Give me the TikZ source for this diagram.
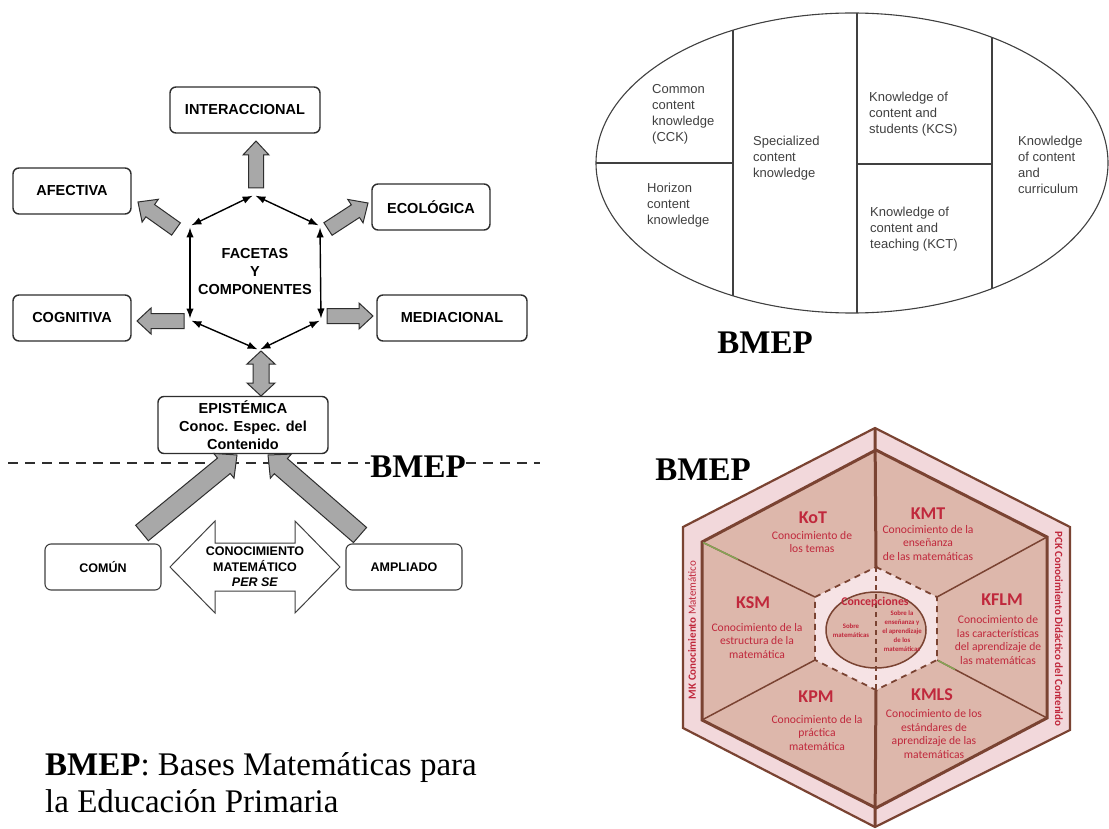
\documentclass[tikz,border=0pt]{standalone}
\usepackage{fontspec}
\setmainfont{Liberation Serif}
\setsansfont{Liberation Sans}
\newfontfamily\calibfont{Carlito}
\usetikzlibrary{arrows.meta,calc}

\definecolor{arrowgray}{HTML}{A8A8A8}
\definecolor{edgegray}{HTML}{2E2E2E}
\definecolor{inkgray}{HTML}{404040}
\definecolor{bandpink}{HTML}{F2D8DB}
\definecolor{facettan}{HTML}{DDB7AB}
\definecolor{corepink}{HTML}{F6E3E5}
\definecolor{hexbrown}{HTML}{7A4332}
\definecolor{kred}{HTML}{C0283C}
\definecolor{olivegreen}{HTML}{86A456}

% single block arrow: [style] tail, tip, shaft half width, head half width, head length
\newcommand{\blockarrow}[6][]{%
  \coordinate (ba-h) at ($(#3)!#6!(#2)$);
  \draw[blockarrow,#1] ($(#2)!#4!90:(#3)$) -- ($(ba-h)!#4!90:(#3)$) -- ($(ba-h)!#5!90:(#3)$)
    -- (#3) -- ($(ba-h)!#5!-90:(#3)$) -- ($(ba-h)!#4!-90:(#3)$) -- ($(#2)!#4!-90:(#3)$) -- cycle;}
% double block arrow: [style] end A, end B, shaft half width, head half width, head length
\newcommand{\dblockarrow}[6][]{%
  \coordinate (ba-a) at ($(#2)!#6!(#3)$);
  \coordinate (ba-b) at ($(#3)!#6!(#2)$);
  \draw[blockarrow,#1] (#2) -- ($(ba-a)!#5!90:(#3)$) -- ($(ba-a)!#4!90:(#3)$)
    -- ($(ba-b)!#4!90:(#3)$) -- ($(ba-b)!#5!90:(#3)$) -- (#3)
    -- ($(ba-b)!#5!-90:(#3)$) -- ($(ba-b)!#4!-90:(#3)$)
    -- ($(ba-a)!#4!-90:(#3)$) -- ($(ba-a)!#5!-90:(#3)$) -- cycle;}

\begin{document}
\begin{tikzpicture}[x=1pt,y=-1pt,
  facet/.style={draw=edgegray, line width=1.4pt, rounded corners=6pt, fill=white,
    align=center, inner sep=1pt, font=\sffamily\bfseries\fontsize{14.5}{18}\selectfont},
  facetsmall/.style={facet, draw=inkgray, line width=1.1pt,
    font=\sffamily\bfseries\fontsize{12.5}{15.5}\selectfont},
  blockarrow/.style={draw=edgegray, line width=1pt, fill=arrowgray, line join=miter},
  hexarrow/.style={{Latex[length=10pt,width=7.5pt]}-{Latex[length=10pt,width=7.5pt]},
    line width=1.4pt, shorten <=1.5pt, shorten >=1.5pt},
  bmep/.style={font=\fontsize{33}{38}\selectfont\bfseries, inner sep=0pt},
  caption/.style={font=\fontsize{33}{38}\selectfont, inner sep=0pt, anchor=base west},
  ckf/.style={font=\sffamily\fontsize{13}{16}\selectfont, text=inkgray, align=left,
    inner sep=0pt, anchor=west},
  ktitle/.style={font=\calibfont\bfseries\fontsize{18}{20}\selectfont, text=kred, inner sep=0pt},
  kbody/.style={font=\calibfont\fontsize{11.6}{13.8}\selectfont, text=kred, align=center, inner sep=0pt},
  ktiny/.style={font=\calibfont\bfseries\fontsize{6.8}{9}\selectfont, text=kred, align=center, inner sep=0pt},
  hexedge/.style={draw=hexbrown, line join=miter}
]
\useasboundingbox[fill=white] (0,0) rectangle (1109,829);

%% ---------------- Facets and components (left) ----------------
\node[facet, minimum width=150pt, minimum height=46pt] (interac) at (245,110) {INTERACCIONAL};
\node[facet, minimum width=118pt, minimum height=46pt] (afect) at (72,191) {AFECTIVA};
\node[facet, minimum width=118pt, minimum height=46pt] (ecol) at (431,207) {ECOLÓGICA};
\node[facet, minimum width=118pt, minimum height=46pt] (cogn) at (72,318) {COGNITIVA};
\node[facet, minimum width=150pt, minimum height=46pt] (medi) at (452,318) {MEDIACIONAL};
\node[facet, minimum width=170pt, minimum height=57pt] (epist) at (243,425)
  {EPISTÉMICA\\Conoc. Espec. del\\Contenido};

\node[font=\sffamily\bfseries\fontsize{14.5}{18}\selectfont, align=center, inner sep=0pt]
  (facetas) at (255,272) {FACETAS\\Y\\COMPONENTES};

% hexagon of double-headed arrows
\coordinate (vt) at (254,195);
\coordinate (vul) at (190,226);
\coordinate (vur) at (320,226);
\coordinate (vll) at (190,320);
\coordinate (vlr) at (321,320);
\coordinate (vb) at (259,350);
\draw[hexarrow] (vul) -- (vt);
\draw[hexarrow] (vt) -- (vur);
\draw[hexarrow] (vul) -- (vll);
\draw[hexarrow] (vur) -- (vlr);
\draw[hexarrow] (vll) -- (vb);
\draw[hexarrow] (vlr) -- (vb);

% block arrows towards the facets
\coordinate (a1t) at (256,188);  \coordinate (a1h) at (256,141);
\coordinate (a2t) at (176,229);  \coordinate (a2h) at (138,202);
\coordinate (a3t) at (328,229);  \coordinate (a3h) at (368,203);
\coordinate (a4t) at (184,321);  \coordinate (a4h) at (137,321);
\coordinate (a5t) at (327,316);  \coordinate (a5h) at (373,316);
\coordinate (a6t) at (261,351);  \coordinate (a6h) at (261,396);
\blockarrow{a1t}{a1h}{7.5pt}{13pt}{14pt}
\blockarrow{a2t}{a2h}{7.5pt}{14pt}{15pt}
\blockarrow{a3t}{a3h}{7.5pt}{14pt}{15pt}
\blockarrow{a4t}{a4h}{7.5pt}{13pt}{14pt}
\blockarrow{a5t}{a5h}{7.5pt}{13pt}{14pt}
\dblockarrow{a6t}{a6h}{8pt}{14pt}{13pt}

% dividing line
\node[bmep] (bm1) at (418,467) {BMEP};
\coordinate (dl) at (8,463);
\coordinate (dr) at (540,463);
\draw[line width=1.5pt, dash pattern=on 10pt off 7pt, edgegray] (dl) -- (dl -| bm1.west);
\draw[line width=1.5pt, dash pattern=on 10pt off 7pt, edgegray] (dr -| bm1.east) -- (dr);

% common / extended knowledge
\node[facetsmall, minimum width=116pt, minimum height=46pt] (comun) at (103,567) {COMÚN};
\node[facetsmall, minimum width=116pt, minimum height=46pt] (ampl) at (404,567) {AMPLIADO};
\coordinate (cml) at (170,567);
\coordinate (cmr) at (340,567);
\dblockarrow[fill=white, draw=inkgray]{cml}{cmr}{24pt}{46pt}{45pt}
\node[font=\sffamily\bfseries\fontsize{12.5}{15.5}\selectfont, align=center, inner sep=0pt]
  (conmat) at (255,567) {CONOCIMIENTO\\MATEMÁTICO\\\textit{PER SE}};
\coordinate (b1t) at (142,533);  \coordinate (b1h) at (237,455);
\coordinate (b2t) at (360,535);  \coordinate (b2h) at (268,455);
\blockarrow{b1t}{b1h}{10pt}{16pt}{17pt}
\blockarrow{b2t}{b2h}{10pt}{16pt}{17pt}

% caption
\node[caption] (cap1) at (45,775) {\textbf{BMEP}: Bases Matemáticas para};
\node[caption] (cap2) at (45,812) {la Educación Primaria};

%% ---------------- Domains of knowledge (ellipse) ----------------
\begin{scope}
  \clip (852,163) ellipse [x radius=256, y radius=150];
  \draw[inkgray, line width=1.1pt] (733,0) -- (733,330);
  \draw[inkgray, line width=1.1pt] (857,0) -- (857,330);
  \draw[inkgray, line width=1.1pt] (992,0) -- (992,330);
  \draw[inkgray, line width=1.1pt] (590,163) -- (733,163);
  \draw[inkgray, line width=1.1pt] (857,164) -- (992,164);
\end{scope}
\draw[inkgray, line width=1.1pt] (852,163) ellipse [x radius=256, y radius=150];
\node[ckf] (cck) at (652,114) {Common\\content\\knowledge\\(CCK)};
\node[ckf] (hck) at (647,205) {Horizon\\content\\knowledge};
\node[ckf] (sck) at (753,158) {Specialized\\content\\knowledge};
\node[ckf] (kcs) at (869,114) {Knowledge of\\content and\\students (KCS)};
\node[ckf] (kct) at (870,229) {Knowledge of\\content and\\teaching (KCT)};
\node[ckf] (kcc) at (1018,165) {Knowledge\\of content\\and\\curriculum};
\node[bmep] (bm2) at (765,343) {BMEP};

%% ---------------- MTSK hexagon ----------------
\node[bmep] (bm3) at (703,470) {BMEP};
% outer band
\path[hexedge, fill=bandpink, line width=2.2pt]
  (875,428) -- (1070,527) -- (1070,730) -- (875,827) -- (683,728) -- (683,527) -- cycle;
% inner hexagon
\path[hexedge, fill=facettan, line width=3pt]
  (876,450) -- (1047,537) -- (1047,718) -- (876,808) -- (702,720) -- (702,542) -- cycle;
% spokes
\draw[hexbrown, line width=3pt] (875,428) -- (876,567);
\draw[hexbrown, line width=3pt] (876,690) -- (875,827);
\draw[hexbrown, line width=1.5pt] (702,542) -- (815,597);
\draw[hexbrown, line width=1.5pt] (702,720) -- (815,660);
\draw[hexbrown, line width=1.5pt] (1047,537) -- (937,597);
\draw[hexbrown, line width=1.5pt] (1047,718) -- (937,660);
\draw[olivegreen, line width=1.5pt] (703,542.5) -- (738,559.5);
\draw[olivegreen, line width=1.5pt] (938,660.5) -- (955,669.5);
% core: conceptions
\path[hexedge, fill=corepink, line width=1.8pt, dash pattern=on 6pt off 5pt]
  (876,567) -- (937,597) -- (937,660) -- (876,690) -- (815,660) -- (815,597) -- cycle;
\draw[hexbrown, fill=facettan, line width=1.5pt] (876,630) ellipse [x radius=50, y radius=38];
\draw[hexbrown, line width=1.5pt, dash pattern=on 5pt off 4pt] (876,567) -- (876,690);
\node[font=\calibfont\bfseries\fontsize{11.8}{13}\selectfont, text=kred, inner sep=0pt]
  (concep) at (875,602) {Concepciones};
\node[ktiny] (sobmat) at (851,631) {Sobre\\matemáticas};
\node[ktiny] (sobens) at (902,631) {Sobre la\\enseñanza y\\el aprendizaje\\de los\\matemáticas};

% six subdomains
\node[ktitle] (kot) at (813,518) {KoT};
\node[kbody] (kotb) at (812,542) {Conocimiento de\\los temas};
\node[ktitle] (kmt) at (928,514) {KMT};
\node[kbody] (kmtb) at (928,543) {Conocimiento de la\\enseñanza\\de las matemáticas};
\node[ktitle] (ksm) at (753,603) {KSM};
\node[kbody] (ksmb) at (757,641) {Conocimiento de la\\estructura de la\\matemática};
\node[ktitle] (kflm) at (1002,600) {KFLM};
\node[kbody] (kflmb) at (998,640) {Conocimiento de\\las características\\del aprendizaje de\\las matemáticas};
\node[ktitle] (kpm) at (816,697) {KPM};
\node[kbody] (kpmb) at (817,733) {Conocimiento de la\\práctica\\matemática};
\node[ktitle] (kmls) at (932,695) {KMLS};
\node[kbody] (kmlsb) at (934,734) {Conocimiento de los\\estándares de\\aprendizaje de las\\matemáticas};

% band labels
\node[font=\calibfont\fontsize{11}{13}\selectfont, text=kred, inner sep=0pt, rotate=90]
  (mk) at (692,630) {\textbf{MK Conocimiento} Matemático};
\node[font=\calibfont\bfseries\fontsize{11}{13}\selectfont, text=kred, inner sep=0pt, rotate=-90]
  (pck) at (1059,629) {PCK Conocimiento Didáctico del Contenido};
\end{tikzpicture}
\end{document}
